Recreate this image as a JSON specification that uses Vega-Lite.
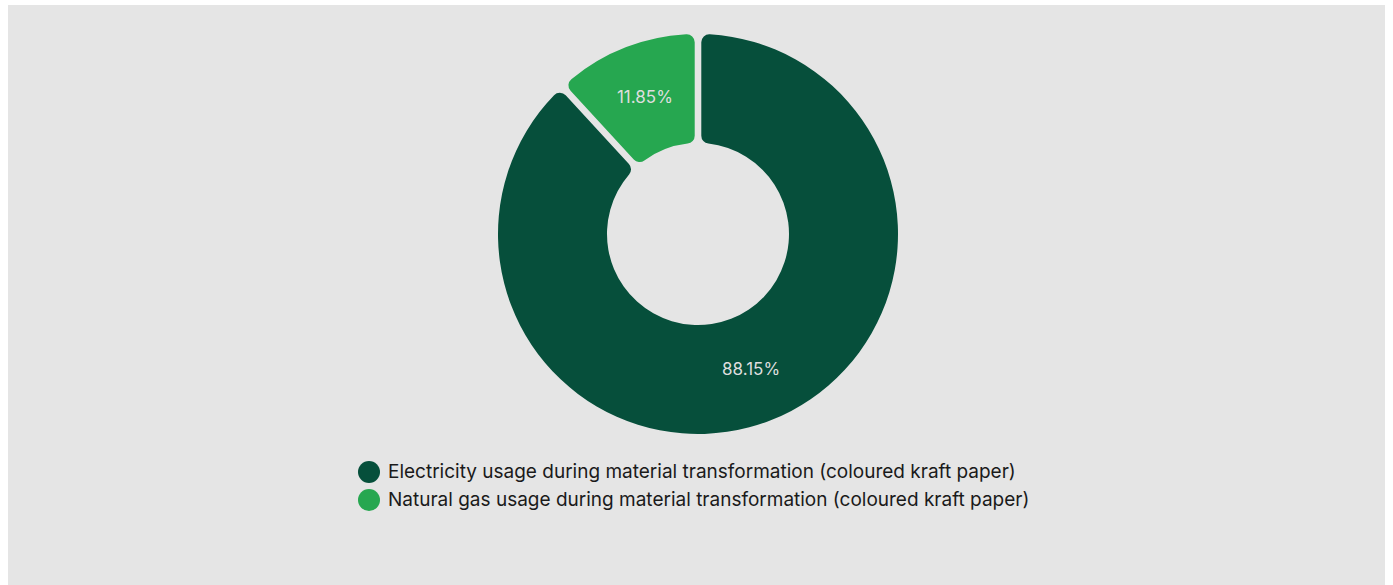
{
  "$schema": "https://vega.github.io/schema/vega-lite/v6.json",
  "width": 1377,
  "height": 580,
  "autosize": {"type": "none"},
  "padding": {"left": 8, "top": 5, "right": 8, "bottom": 0},
  "background": "#ffffff",
  "view": {"fill": "#e5e5e5", "stroke": null},
  "config": {
    "font": "Inter"
  },
  "data": {
    "values": [
      {"category": "Electricity usage during material transformation (coloured kraft paper)", "share": 88.15, "label": "88.15%"},
      {"category": "Natural gas usage during material transformation (coloured kraft paper)", "share": 11.85, "label": "11.85%"}
    ]
  },
  "encoding": {
    "theta": {"field": "share", "type": "quantitative", "stack": true},
    "order": {"field": "category", "type": "nominal", "sort": "ascending"}
  },
  "layer": [
    {
      "mark": {"type": "arc", "innerRadius": 91, "outerRadius": 200, "cornerRadius": 8, "padAngle": 0.03, "xOffset": 1.5, "yOffset": -61},
      "encoding": {
        "color": {
          "field": "category",
          "type": "nominal",
          "scale": {"range": ["#064f3b", "#26a750"]},
          "legend": {
            "title": null,
            "orient": "none",
            "direction": "vertical",
            "legendX": 350,
            "legendY": 456,
            "symbolType": "circle",
            "symbolSize": 484,
            "symbolStrokeWidth": 0,
            "labelFontSize": 19,
            "labelFont": "Inter",
            "labelColor": "#1a1a1a",
            "labelOffset": 8,
            "rowPadding": 6,
            "labelLimit": 1000
          }
        }
      }
    },
    {
      "mark": {"type": "text", "radius": 146, "fontSize": 17, "fill": "#dedede", "font": "Inter", "xOffset": 1.5, "yOffset": -61},
      "encoding": {
        "detail": {"field": "category", "type": "nominal"},
        "text": {"field": "label", "type": "nominal"}
      }
    }
  ]
}
